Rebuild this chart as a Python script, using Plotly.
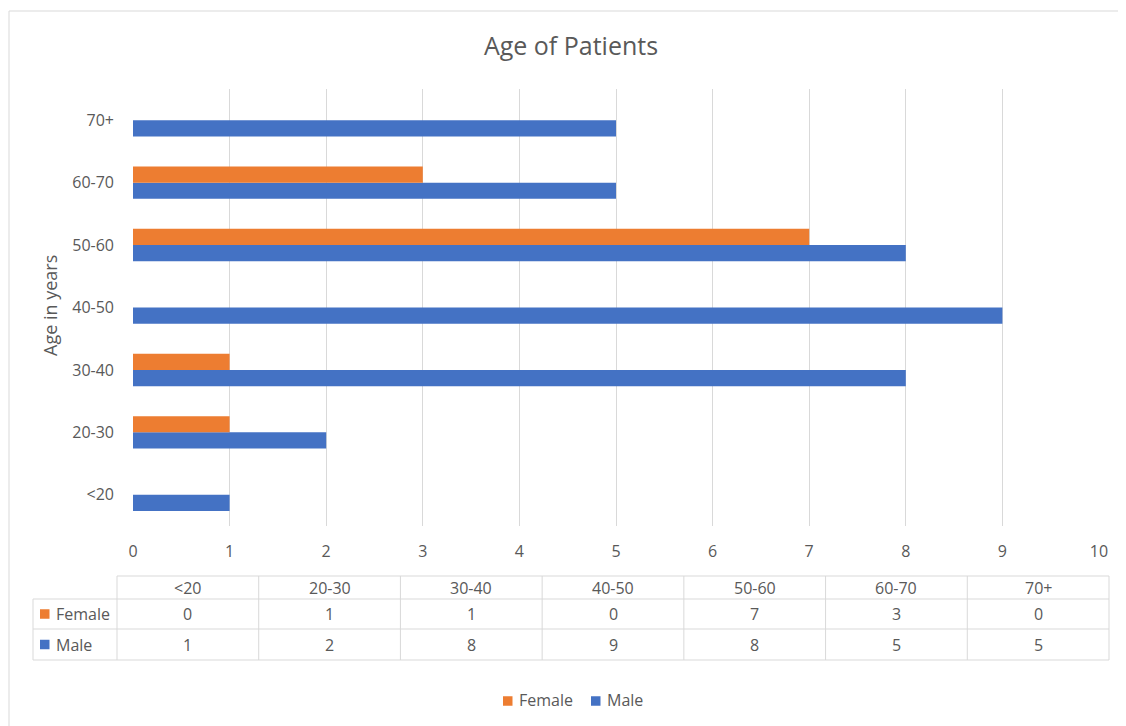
import plotly.graph_objects as go

categories = ["<20", "20-30", "30-40", "40-50", "50-60", "60-70", "70+"]
female = [0, 1, 1, 0, 7, 3, 0]
male = [1, 2, 8, 9, 8, 5, 5]
series = [("Female", female, "#ED7D31"), ("Male", male, "#4472C4")]
x_ticks = list(range(0, 11))

TXT = "#595959"
GRID = "#D9D9D9"
FONT = "Open Sans"

OFF = 8  # page body margin
W_FIG, H_FIG = 1126 - OFF, 726 - OFF
# plot area in reference (window) pixel coordinates
L, R, T, B = 133, 1099, 89, 526
PW, PH = R - L, B - T


def px(x):
    return (x - L) / PW


def py(y):
    return (B - y) / PH


fig = go.Figure()
fig.add_trace(go.Bar(y=categories, x=male, name="Male", orientation="h",
                     marker=dict(color="#4472C4", line=dict(width=0)), showlegend=False))
fig.add_trace(go.Bar(y=categories, x=female, name="Female", orientation="h",
                     marker=dict(color="#ED7D31", line=dict(width=0)), showlegend=False))

shapes = []
annotations = []


def hline(y, x0, x1):
    shapes.append(dict(type="line", xref="paper", yref="paper", x0=px(x0), x1=px(x1),
                       y0=py(y), y1=py(y), line=dict(color=GRID, width=1)))


def vline(x, y0, y1):
    shapes.append(dict(type="line", xref="paper", yref="paper", x0=px(x), x1=px(x),
                       y0=py(y0), y1=py(y1), line=dict(color=GRID, width=1)))


def text(t, x, y, size=16, xanchor="center", angle=0):
    annotations.append(dict(text=t, x=px(x), y=py(y), xref="paper", yref="paper",
                            showarrow=False, xanchor=xanchor, yanchor="middle",
                            textangle=angle, font=dict(family=FONT, size=size, color=TXT)))


def square(x0, yc, col, s=9.5):
    shapes.append(dict(type="rect", xref="paper", yref="paper", x0=px(x0), x1=px(x0 + s),
                       y0=py(yc - s / 2), y1=py(yc + s / 2), fillcolor=col, line=dict(width=0)))


# outer chart border (top & left visible)
hline(11, 9, 1140)
vline(9, 11, 740)

# data table
tab_lab_left, tab_left, tab_right = 33, 117, 1109
row_y = [576, 599, 629, 660]
ncol = len(categories)
cw = (tab_right - tab_left) / ncol
hline(row_y[0], tab_left, tab_right)
for yy in row_y[1:]:
    hline(yy, tab_lab_left, tab_right)
vline(tab_lab_left, row_y[1], row_y[3])
for i in range(ncol + 1):
    vline(tab_left + i * cw, row_y[0], row_y[3])

for i, c in enumerate(categories):
    cx = tab_left + (i + 0.5) * cw
    text(c, cx, (row_y[0] + row_y[1]) / 2)
    for r, (name, vals, col) in enumerate(series):
        text(str(vals[i]), cx, (row_y[r + 1] + row_y[r + 2]) / 2)

for r, (name, vals, col) in enumerate(series):
    yc = (row_y[r + 1] + row_y[r + 2]) / 2
    square(40, yc, col)
    text(name, 54, yc, xanchor="left")

# legend (bottom)
leg_y = 701
square(503, leg_y, series[0][2])
text(series[0][0], 517, leg_y - 1, xanchor="left")
square(591, leg_y, series[1][2])
text(series[1][0], 605, leg_y - 1, xanchor="left")

# y axis title
text("Age in years", 50, 306, size=18, angle=-90)

fig.update_layout(
    width=W_FIG, height=H_FIG,
    margin=dict(l=L - OFF, r=1126 - R, t=T - OFF, b=726 - B, pad=0),
    paper_bgcolor="white", plot_bgcolor="white",
    title=dict(text="Age of Patients", x=px(571), xref="paper", xanchor="center",
               y=1 - (46 - OFF) / H_FIG, yref="container", yanchor="middle",
               font=dict(family=FONT, size=25, color=TXT)),
    barmode="group", bargap=0.48, bargroupgap=0,
    showlegend=False,
    xaxis=dict(range=[0, 10], tickvals=x_ticks, showgrid=True, gridcolor=GRID, gridwidth=1,
               zeroline=False, showline=False, ticks="", ticklabelstandoff=14,
               tickfont=dict(family=FONT, size=16, color=TXT)),
    yaxis=dict(categoryorder="array", categoryarray=categories, showgrid=False,
               zeroline=False, showline=False, ticks="",
               tickfont=dict(family=FONT, size=16, color=TXT), ticklabelstandoff=18),
    shapes=shapes, annotations=annotations,
)

fig.write_html("out.html")
